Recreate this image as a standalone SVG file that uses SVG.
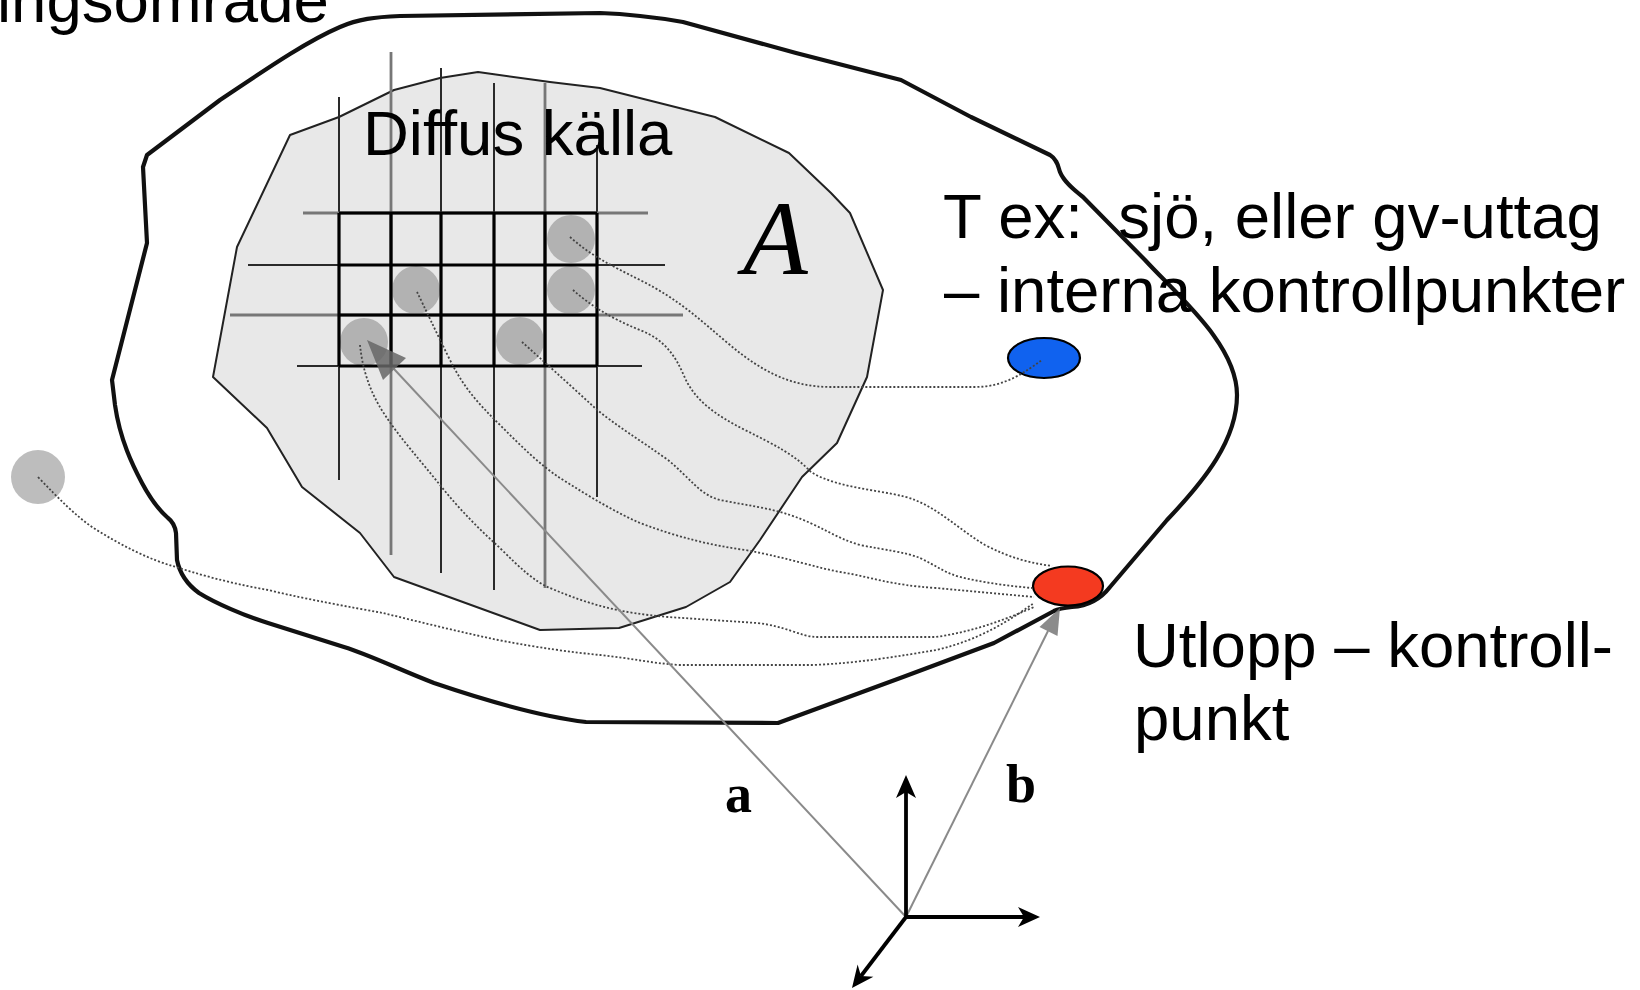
<svg xmlns="http://www.w3.org/2000/svg" width="1640" height="990" viewBox="0 0 1640 990">
<style>
.t{font-family:"Liberation Sans",Arial,sans-serif;font-size:63.5px;fill:#000;white-space:pre}
.lbl{font-family:"Liberation Serif","Times New Roman",serif;font-weight:bold;font-size:54px;fill:#000}
.dot{fill:none;stroke:#444;stroke-width:1.8;stroke-dasharray:2 2}
.gl{stroke:#2a2a2a;stroke-width:2;fill:none}
.gg{stroke:#777;stroke-width:2.8;fill:none}
.gk{stroke:#000;stroke-width:3.2;fill:none}
.cell{fill:#b2b2b2}
.ax{stroke:#000;stroke-width:3.8;fill:none}
.vec{stroke:#8a8a8a;stroke-width:2;fill:none}
</style>
<rect width="1640" height="990" fill="#fff"/>
<g id="catchment">
<path d="M147,155 L220,100 C262,72 305,42 340,27 C358,19 375,17 400,16 L600,13 C630,14 660,18 683,22 L796,53 L901,80 L971,117 L1050,155 C1058,160 1058,167 1060,172 C1064,182 1074,190 1083,197 L1145,260 C1180,298 1237,345 1237,395 C1237,440 1205,480 1167,520 L1110,587 C1100,600 1088,606 1072,607 C1062,608 1058,609 1054,611 L994,643 L903,677 L778,723 L586,722 C545,717 490,702 434,683 C400,670 370,655 344,647 L268,623 C245,616 215,603 199,593 C188,585 180,575 177,560 L176,533 C175,525 172,521 168,518 C160,511 150,498 142,483 C133,466 120,440 115,405 L112,380 L147,243 L143,167 Z" fill="none" stroke="#111" stroke-width="4.2" stroke-linejoin="round"/>
</g>
<g id="diffuse-source">
<polygon points="290,135 339,117 394,90 440,78 478,72 550,82 600,88 715,117 789,153 831,193 850,213 883,290 867,377 837,443 802,477 760,540 730,582 686,607 619,628 540,630 394,577 360,533 302,487 267,428 213,377 237,247" fill="#e8e8e8" stroke="#222" stroke-width="2" stroke-linejoin="round"/>
<g id="grid">
<line class="gl" x1="339" y1="97" x2="339" y2="480"/>
<line class="gg" x1="391" y1="52" x2="391" y2="555"/>
<line class="gl" x1="441" y1="68" x2="441" y2="573"/>
<line class="gl" x1="494" y1="83" x2="494" y2="590"/>
<line class="gg" x1="545" y1="83" x2="545" y2="588"/>
<line class="gl" x1="597" y1="145" x2="597" y2="497"/>
<line class="gg" x1="303" y1="213" x2="648" y2="213"/>
<line class="gl" x1="248" y1="265" x2="665" y2="265"/>
<line class="gg" x1="230" y1="315" x2="683" y2="315"/>
<line class="gl" x1="297" y1="366" x2="642" y2="366"/>
<circle class="cell" cx="364" cy="342" r="24"/>
<circle class="cell" cx="416" cy="290" r="24"/>
<circle class="cell" cx="520" cy="341" r="24"/>
<circle class="cell" cx="571" cy="239" r="24"/>
<circle class="cell" cx="571" cy="290" r="24"/>
<path class="gk" d="M339,213 H597 M339,265 H597 M339,315 H597 M339,366 H597 M339,213 V366 M391,213 V366 M441,213 V366 M494,213 V366 M545,213 V366 M597,213 V366"/>
</g>
</g>
<g id="external-source">
<circle cx="38" cy="477" r="27" fill="#bdbdbd"/>
</g>
<g id="internal-point">
<ellipse cx="1044" cy="358" rx="36" ry="20" fill="#1062ef" stroke="#000" stroke-width="2.2"/>
</g>
<g id="outlet">
<ellipse cx="1068" cy="586" rx="35" ry="19.5" fill="#f43a20" stroke="#000" stroke-width="2.2"/>
</g>
<g id="connectors">
<path class="dot" d="M570,237 C590,255 610,265 640,280 C680,300 700,320 730,345 C760,370 790,387 830,387 L975,387 C1005,387 1025,372 1042,360"/>
<path class="dot" d="M573,290 C590,305 610,318 640,330 C665,340 675,355 685,378 C695,400 715,415 745,430 C775,445 795,455 811,472 C840,490 890,490 915,500 C940,510 960,530 985,545 C1010,558 1030,563 1052,566"/>
<path class="dot" d="M522,342 C540,358 570,385 595,408 C615,425 640,440 668,460 C690,478 700,495 720,500 C745,505 770,508 790,515 C820,525 835,538 860,545 C885,550 905,552 920,558 C935,565 945,573 960,577 C985,583 1010,586 1032,588"/>
<path class="dot" d="M417,292 C425,308 435,330 450,360 C465,390 480,405 500,425 C520,445 540,465 560,478 C590,497 615,512 640,523 C680,538 710,545 745,550 C790,558 815,568 846,573 C870,577 890,585 936,588 L1034,597"/>
<path class="dot" d="M360,345 C362,365 368,390 385,415 C400,438 420,460 440,485 C460,510 480,530 500,548 C520,568 535,582 550,588 C590,605 620,613 668,617 L757,623 C785,626 800,636 815,637 L936,637 C970,632 1000,622 1034,607"/>
<path class="dot" d="M38,477 C60,500 75,515 92,527 C120,545 150,560 176,567 C210,578 240,585 268,590 C310,600 350,607 383,613 C420,622 460,632 498,640 C540,648 570,652 600,655 C630,658 650,663 679,665 L813,665 C860,663 900,656 936,650 C980,640 1010,620 1034,603"/>
</g>
<g id="vectors">
<line class="vec" x1="906" y1="917" x2="394" y2="369"/>
<polygon points="367,340 406,358 383,380" fill="#666" fill-opacity="0.85"/>
<line class="vec" x1="906" y1="917" x2="1048" y2="631"/>
<polygon points="1060,608 1057.5,636 1039.5,627" fill="#777" fill-opacity="0.85"/>
</g>
<g id="axes">
<line class="ax" x1="906" y1="917" x2="906" y2="792"/>
<polygon points="906,775 896,798 906,792 916,798" fill="#000"/>
<line class="ax" x1="906" y1="917" x2="1024" y2="917"/>
<polygon points="1040,917 1018,907 1024,917 1018,927" fill="#000"/>
<line class="ax" x1="906" y1="917" x2="861" y2="976"/>
<polygon points="852,988 857.6,964.5 861,976 873.4,976.7" fill="#000"/>
</g>
<g id="labels">
<text class="t" x="-3" y="22">ingsområde</text>
<text class="t" x="363" y="155">Diffus källa</text>
<text x="743" y="274" font-family="'Liberation Serif','Times New Roman',serif" font-style="italic" font-size="106">A</text>
<text class="t" x="943" y="238">T ex:  sjö, eller gv-uttag</text>
<text class="t" x="944" y="312">– interna kontrollpunkter</text>
<text class="t" x="1133" y="667">Utlopp – kontroll-</text>
<text class="t" x="1134" y="740">punkt</text>
<text class="lbl" x="725" y="812">a</text>
<text class="lbl" x="1006" y="802">b</text>
</g>
</svg>
